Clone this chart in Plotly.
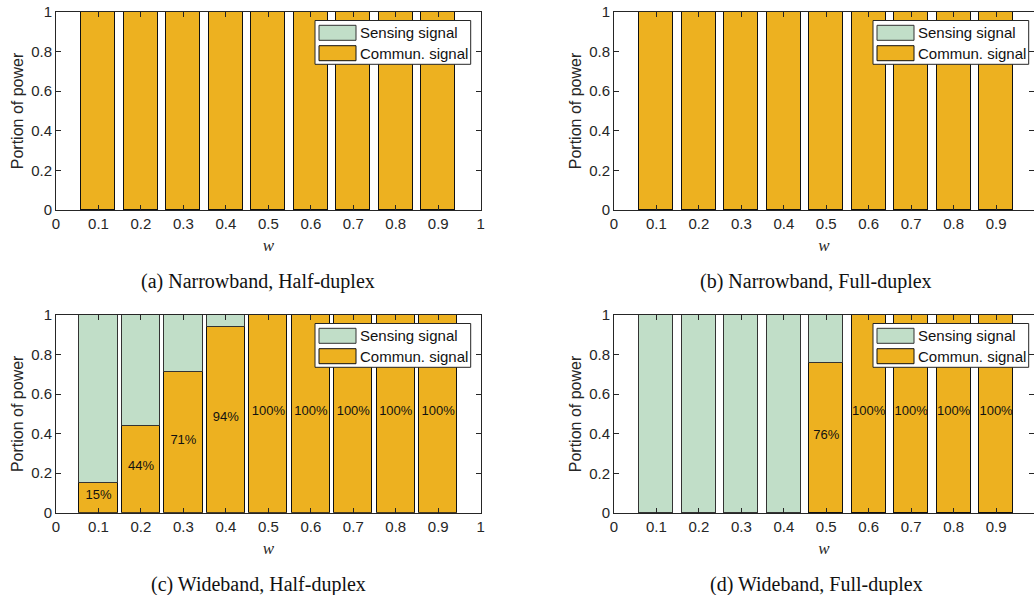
import plotly.graph_objects as go

W, H = 1034, 595

w_vals = [0.1, 0.2, 0.3, 0.4, 0.5, 0.6, 0.7, 0.8, 0.9]
comm_a = [1, 1, 1, 1, 1, 1, 1, 1, 1]
comm_b = [1, 1, 1, 1, 1, 1, 1, 1, 1]
comm_c = [0.15, 0.44, 0.71, 0.94, 1, 1, 1, 1, 1]
comm_d = [0, 0, 0, 0.002, 0.76, 1, 1, 1, 1]
x_ticks = [0, 0.1, 0.2, 0.3, 0.4, 0.5, 0.6, 0.7, 0.8, 0.9, 1]
x_tick_labels = ["0", "0.1", "0.2", "0.3", "0.4", "0.5", "0.6", "0.7", "0.8", "0.9", "1"]
y_ticks = [0, 0.2, 0.4, 0.6, 0.8, 1]
y_tick_labels = ["0", "0.2", "0.4", "0.6", "0.8", "1"]
captions = ["(a) Narrowband, Half-duplex", "(b) Narrowband, Full-duplex",
            "(c) Wideband, Half-duplex", "(d) Wideband, Full-duplex"]
series_names = ["Sensing signal", "Commun. signal"]

COMM = "#EDB120"
SENS = "#C1DEC8"
AX = "#262626"

def px_x(p):
    return p / W

def px_y(p):
    return 1 - p / H

# panel pixel boxes: left, right(of x=1), top, bottom
panels = [
    dict(comm=comm_a, L=56, R=480.7, T=12, B=210, width=0.08, labels=False),
    dict(comm=comm_b, L=614, R=1038.5, T=12, B=210, width=0.08, labels=False),
    dict(comm=comm_c, L=56, R=480.7, T=315, B=512.7, width=0.09, labels=True),
    dict(comm=comm_d, L=614, R=1038.5, T=315, B=513, width=0.08, labels=True),
]

fig = go.Figure()
shapes = []
annotations = []

for i, p in enumerate(panels):
    k = "" if i == 0 else str(i + 1)
    xa, ya = "x" + k, "y" + k
    comm = p["comm"]
    sens = [round(1 - c, 4) for c in comm]
    right_px = min(p["R"], W)
    xmax = (right_px - p["L"]) / (p["R"] - p["L"])
    fig.add_trace(go.Bar(x=w_vals, y=comm, width=p["width"], marker=dict(color=COMM, line=dict(color="#111111", width=1)),
                         name=series_names[1], showlegend=False, xaxis=xa, yaxis=ya))
    fig.add_trace(go.Bar(x=w_vals, y=sens, width=p["width"], marker=dict(color=SENS, line=dict(color="#333333", width=1)),
                         name=series_names[0], showlegend=False, xaxis=xa, yaxis=ya))
    if p["labels"]:
        lx = [x for x, c in zip(w_vals, comm) if c > 0.05]
        ly = [c / 2 + 0.01 for c in comm if c > 0.05]
        lt = ["%d%%" % round(c * 100) for c in comm if c > 0.05]
        fig.add_trace(go.Scatter(x=lx, y=ly, text=lt, mode="text", showlegend=False,
                                 textfont=dict(family="Liberation Sans, Arial", size=13, color="#111111"),
                                 xaxis=xa, yaxis=ya, cliponaxis=False))
    axx = dict(domain=[px_x(p["L"]), px_x(right_px)], range=[0, xmax], anchor=ya, automargin=False,
               tickvals=x_ticks, ticktext=x_tick_labels, ticks="inside", ticklen=5, tickcolor=AX,
               showline=True, linecolor=AX, linewidth=1, mirror="ticks", showgrid=False, zeroline=False,
               tickfont=dict(family="Liberation Sans, Arial", size=15, color=AX),
               title=dict(text="<i>w</i>", font=dict(family="Liberation Serif, Times New Roman", size=17, color=AX), standoff=8))
    axy = dict(domain=[px_y(p["B"]), px_y(p["T"])], range=[0, 1], anchor=xa, automargin=False,
               tickvals=y_ticks, ticktext=y_tick_labels, ticks="inside", ticklen=5, tickcolor=AX,
               showline=True, linecolor=AX, linewidth=1, mirror="ticks", showgrid=False, zeroline=False,
               tickfont=dict(family="Liberation Sans, Arial", size=15, color=AX),
               title=dict(text="Portion of power", font=dict(family="Liberation Sans, Arial", size=16, color=AX), standoff=3))
    fig.layout["xaxis" + k] = axx
    fig.layout["yaxis" + k] = axy

    # legend box
    bl = p["L"] + 259
    bt = p["T"] + 8.5
    br = bl + 155.7
    bb = bt + 43.8
    shapes.append(dict(type="rect", xref="paper", yref="paper", x0=px_x(bl), x1=px_x(br), y0=px_y(bb), y1=px_y(bt),
                       fillcolor="white", line=dict(color=AX, width=1), layer="above"))
    for j, (nm, col, edge) in enumerate([(series_names[0], SENS, "#333333"), (series_names[1], COMM, "#111111")]):
        sy0 = bt + 4.8 + j * 20.4
        shapes.append(dict(type="rect", xref="paper", yref="paper", x0=px_x(bl + 4), x1=px_x(bl + 41),
                           y0=px_y(sy0 + 15), y1=px_y(sy0), fillcolor=col, line=dict(color=edge, width=1), layer="above"))
        annotations.append(dict(text=nm, xref="paper", yref="paper", x=px_x(bl + 43), y=px_y(sy0 + 7.5),
                                xanchor="left", yanchor="middle", showarrow=False,
                                font=dict(family="Liberation Sans, Arial", size=15, color="#111111")))

cap_pos = [(258, 281), (816, 281), (258, 584), (816, 584)]
for c, (cx, cy) in zip(captions, cap_pos):
    annotations.append(dict(text=c, xref="paper", yref="paper", x=px_x(cx), y=px_y(cy), xanchor="center",
                            yanchor="middle", showarrow=False,
                            font=dict(family="Liberation Serif, Times New Roman", size=20, color="#111111")))

fig.update_layout(width=W, height=H, margin=dict(l=0, r=0, t=0, b=0, autoexpand=False), barmode="stack",
                  plot_bgcolor="white", paper_bgcolor="white", shapes=shapes, annotations=annotations,
                  bargap=0)
fig.write_html("out.html")
